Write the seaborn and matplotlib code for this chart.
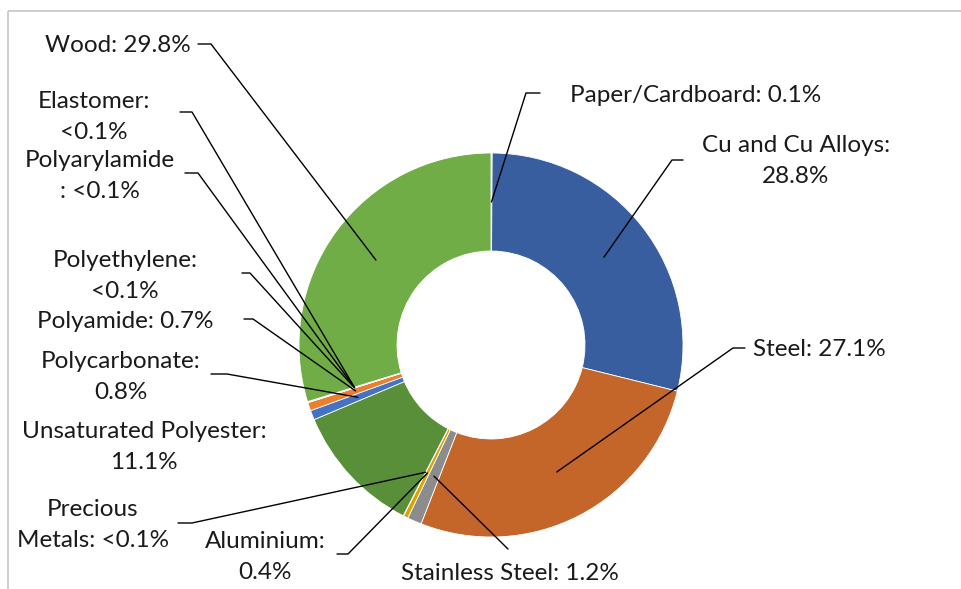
import numpy as np
import matplotlib.pyplot as plt
import seaborn as sns
from matplotlib.patches import Rectangle

# -------------------------------
# Data (clockwise from 12 o'clock)
# -------------------------------
materials = ["Paper/Cardboard", "Cu and Cu Alloys", "Steel", "Stainless Steel",
             "Aluminium", "Precious Metals", "Unsaturated Polyester",
             "Polycarbonate", "Polyamide", "Polyethylene", "Polyarylamide",
             "Elastomer", "Wood"]
shares = [0.1, 28.8, 27.1, 1.2, 0.4, 0.03, 11.1, 0.8, 0.7, 0.03, 0.03, 0.03, 29.8]
share_text = ["0.1%", "28.8%", "27.1%", "1.2%", "0.4%", "<0.1%", "11.1%",
              "0.8%", "0.7%", "<0.1%", "<0.1%", "<0.1%", "29.8%"]
colors = ["#B9C1CC", "#385E9F", "#C4652A", "#8C8C8C", "#DCA300", "#5B9BD5",
          "#5A8F3A", "#4472C4", "#ED7D31", "#A5A5A5", "#FFC000", "#5B9BD5",
          "#70AD47"]

# -------------------------------
# Label layout (pixel coords, y down)
# text centre, line break style, leader stub (start, bend) or None
# -------------------------------
label_fmt = {
    "Paper/Cardboard": "{n}: {v}",
    "Cu and Cu Alloys": "{n}:\n{v}",
    "Steel": "{n}: {v}",
    "Stainless Steel": "{n}: {v}",
    "Aluminium": "{n}:\n{v}",
    "Precious Metals": "Precious\nMetals: {v}",
    "Unsaturated Polyester": "{n}:\n{v}",
    "Polycarbonate": "{n}:\n{v}",
    "Polyamide": "{n}: {v}",
    "Polyethylene": "{n}:\n{v}",
    "Polyarylamide": "{n}\n: {v}",
    "Elastomer": "{n}:\n{v}",
    "Wood": "{n}: {v}",
}
label_pos = {
    "Paper/Cardboard": (696, 95),
    "Cu and Cu Alloys": (796, 161),
    "Steel": (819, 350),
    "Stainless Steel": (510, 573),
    "Aluminium": (265, 557),
    "Precious Metals": (93, 525),
    "Unsaturated Polyester": (144, 447),
    "Polycarbonate": (121, 377),
    "Polyamide": (125, 322),
    "Polyethylene": (125, 276),
    "Polyarylamide": (100, 176),
    "Elastomer": (94, 117),
    "Wood": (118, 45),
}
leader_stub = {
    "Paper/Cardboard": [(540, 93), (526, 93)],
    "Cu and Cu Alloys": [(683, 160), (672, 160)],
    "Steel": [(745, 348), (733, 348)],
    "Stainless Steel": [(508, 549)],
    "Aluminium": [(337, 554), (348, 554)],
    "Precious Metals": [(178, 523), (192, 523)],
    "Polycarbonate": [(211, 374), (227, 374)],
    "Polyamide": [(244, 319), (253, 319)],
    "Polyethylene": [(242, 273), (250, 273)],
    "Polyarylamide": [(185, 173), (198, 173)],
    "Elastomer": [(180, 112), (192, 112)],
    "Wood": [(198, 44), (211, 44)],
}

center = (491, 345)
r_out, r_in = 192, 94

# -------------------------------
# Plot
# -------------------------------
sns.set_style("white")
plt.rcParams["font.family"] = ["Lato", "DejaVu Sans"]

fig = plt.figure(figsize=(9.61, 5.89), dpi=100)
ax = fig.add_axes([0, 0, 1, 1])

# y axis points down, so counterclock=True draws clockwise on screen
wedges, _ = ax.pie(shares, colors=colors, startangle=-90, counterclock=True,
                   center=center, radius=r_out,
                   wedgeprops=dict(width=r_out - r_in, edgecolor="white",
                                   linewidth=0.6))

ax.set_xlim(0, 961)
ax.set_ylim(589, 0)
ax.set_aspect("equal")
ax.axis("off")

# chart frame
ax.add_patch(Rectangle((8, 11), 1000, 700, fill=False, edgecolor="#C6C6C6",
                       linewidth=1.2, clip_on=True))

r_mid = (r_out + r_in) / 2
for w, name, val in zip(wedges, materials, share_text):
    text = label_fmt[name].format(n=name, v=val)
    tx, ty = label_pos[name]
    ax.text(tx, ty, text, ha="center", va="center", fontsize=17.5,
            linespacing=1.55, color="#1a1a1a")
    if name in leader_stub:
        ang = np.deg2rad((w.theta1 + w.theta2) / 2)
        anchor = (center[0] + r_mid * np.cos(ang), center[1] + r_mid * np.sin(ang))
        pts = leader_stub[name] + [anchor]
        xs, ys = zip(*pts)
        ax.plot(xs, ys, color="black", linewidth=1.0)

plt.savefig("out.png", dpi=100)
